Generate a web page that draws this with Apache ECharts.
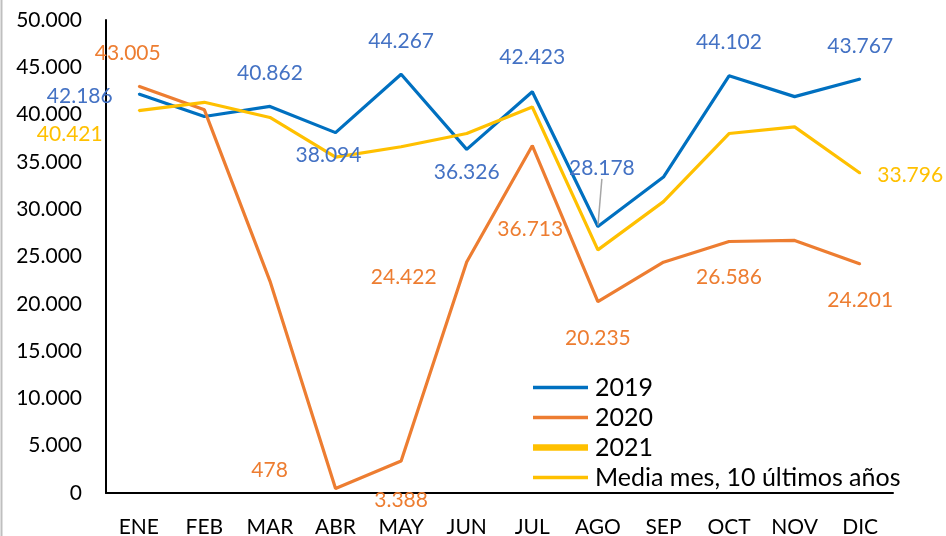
<!DOCTYPE html>
<html>
<head>
<meta charset="utf-8">
<script src="https://cdn.jsdelivr.net/npm/echarts@6/dist/echarts.min.js"></script>
<style>
  html, body { margin: 0; padding: 0; background: #fff; }
  #chart { width: 946px; height: 536px; }
</style>
</head>
<body>
<div id="chart"></div>
<script>
// data
const months = ['ENE', 'FEB', 'MAR', 'ABR', 'MAY', 'JUN', 'JUL', 'AGO', 'SEP', 'OCT', 'NOV', 'DIC'];
const yTicks = [0, 5000, 10000, 15000, 20000, 25000, 30000, 35000, 40000, 45000, 50000];
const v2019 = [42186, 39800, 40862, 38094, 44267, 36326, 42423, 28178, 33400, 44102, 41900, 43767];
const v2020 = [43005, 40500, 22400, 478, 3388, 24422, 36713, 20235, 24400, 26586, 26700, 24201];
const v2021 = [null, null, null, null, null, null, null, null, null, null, null, null];
const vMedia = [40421, 41300, 39700, 35500, 36600, 38000, 40800, 25700, 30800, 38000, 38700, 33796];

// which points carry a value label, and where the label sits (px from the point)
const labelOffsets2019 = { 0: [-59, 2], 2: [0, -33], 3: [-7, 23], 4: [0, -33], 5: [0, 23], 6: [0, -34], 7: [4, -58], 9: [0, -34], 11: [0, -33] };
const labelOffsets2020 = { 0: [-11, -33], 3: [-66, -18], 4: [0, 39], 5: [-63, 15], 6: [-2, 84], 7: [0, 37], 9: [0, 36], 11: [0, 36] };
const labelOffsetsMedia = { 0: [-69, 24], 11: [50, 2] };

const FONT = 'Lato';
const FS = 21;

const fmt = v => String(v).replace(/\B(?=(\d{3})+(?!\d))/g, '.');

function withLabels(values, offsets, color, leader) {
    return values.map((v, i) => {
        const off = offsets[i];
        if (!off) return { value: v, label: { show: false } };
        const item = {
            value: v,
            label: {
                show: true,
                position: 'inside',
                offset: off,
                color: color,
                fontFamily: FONT,
                fontSize: FS,
                formatter: p => fmt(p.value)
            }
        };
        if (leader && leader === i) {
            item.labelLine = { show: true, lineStyle: { color: '#a6a6a6', width: 1.5 } };
        }
        return item;
    });
}

const chart = echarts.init(document.getElementById('chart'), null, { renderer: 'canvas' });

const lineSeries = (name, data, color, width) => ({
    name: name,
    type: 'line',
    data: data,
    symbol: 'circle',
    symbolSize: 2,
    itemStyle: { color: color },
    lineStyle: { color: color, width: width },
    emphasis: { disabled: true },
    animation: false
});

const thinIcon = 'path://M0,0H55V3.4H0Z';
const thickIcon = 'path://M0,0H55V6.5H0Z';

const option = {
    backgroundColor: '#fff',
    textStyle: { fontFamily: FONT },
    grid: { left: 106, right: 53, top: 20, bottom: 43, outerBoundsMode: 'none', containLabel: false },
    legend: {
        orient: 'vertical',
        left: 533,
        top: 375,
        padding: 0,
        itemWidth: 55,
        itemHeight: 14,
        itemGap: 5,
        textStyle: { fontFamily: FONT, fontSize: 25, lineHeight: 20, color: '#000', padding: [0, 0, 0, 2] },
        data: [
            { name: '2019', icon: thinIcon },
            { name: '2020', icon: thinIcon },
            { name: '2021', icon: thickIcon },
            { name: 'Media mes, 10 últimos años', icon: thinIcon }
        ]
    },
    xAxis: {
        type: 'category',
        data: months,
        boundaryGap: true,
        axisLine: { lineStyle: { color: '#000', width: 2 } },
        axisTick: { show: false },
        axisLabel: { color: '#000', fontFamily: FONT, fontSize: FS, margin: 24 }
    },
    yAxis: {
        type: 'value',
        min: yTicks[0],
        max: yTicks[yTicks.length - 1],
        interval: yTicks[1] - yTicks[0],
        axisLine: { show: true, lineStyle: { color: '#000', width: 2 } },
        axisTick: { show: false },
        splitLine: { show: false },
        axisLabel: { color: '#000', fontFamily: FONT, fontSize: FS, margin: 24, formatter: v => fmt(v) }
    },
    graphic: [{
        type: 'line',
        shape: { x1: 1.5, y1: 0, x2: 1.5, y2: 536 },
        style: { stroke: '#bfbfbf', lineWidth: 2 }
    }],
    series: [
        lineSeries('2019', withLabels(v2019, labelOffsets2019, '#4472C4', 7), '#0070C0', 3.2),
        lineSeries('2020', withLabels(v2020, labelOffsets2020, '#ED7D31'), '#ED7D31', 3.2),
        lineSeries('2021', v2021, '#FFC000', 6),
        lineSeries('Media mes, 10 últimos años', withLabels(vMedia, labelOffsetsMedia, '#FFC000'), '#FFC000', 3.2)
    ]
};

chart.setOption(option);
</script>
</body>
</html>
